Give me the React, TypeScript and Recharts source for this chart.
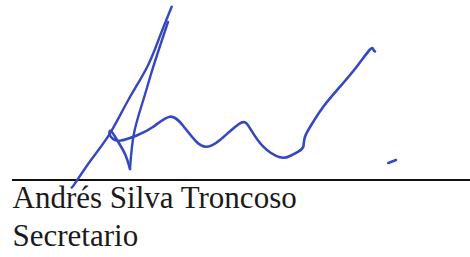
import React from "react";
import { ComposedChart, Line, XAxis, YAxis } from "recharts";

// Signature strokes (page pixel coordinates)
const longStroke = [
  { x: 171.7, y: 6.7 },
  { x: 160, y: 36 },
  { x: 147.3, y: 66.7 },
  { x: 128.3, y: 100 },
  { x: 110, y: 133.3 },
  { x: 91, y: 160 },
  { x: 75, y: 183.3 },
  { x: 71.7, y: 187.5 },
];

const rightLeg = [
  { x: 168, y: 22 },
  { x: 153.3, y: 66.7 },
  { x: 143.3, y: 100 },
  { x: 134, y: 133.3 },
  { x: 130, y: 169 },
];

const waveStroke = [
  { x: 130, y: 169 },
  { x: 125, y: 154 },
  { x: 117, y: 140 },
  { x: 111, y: 131 },
  { x: 109.5, y: 134 },
  { x: 113, y: 139 },
  { x: 121, y: 140.5 },
  { x: 136.7, y: 135.5 },
  { x: 153.3, y: 126.7 },
  { x: 170, y: 116.7 },
  { x: 183.3, y: 126 },
  { x: 196.7, y: 142 },
  { x: 206.7, y: 146.7 },
  { x: 220, y: 140 },
  { x: 240, y: 123.3 },
  { x: 250, y: 128.3 },
  { x: 263.3, y: 146.7 },
  { x: 280, y: 157.3 },
  { x: 290, y: 156 },
  { x: 298.3, y: 151.7 },
  { x: 303.3, y: 146.7 },
  { x: 305, y: 136.7 },
  { x: 313.3, y: 121.7 },
  { x: 323.3, y: 106.7 },
  { x: 340, y: 86.7 },
  { x: 356.7, y: 66.7 },
  { x: 370, y: 49.5 },
  { x: 373.3, y: 49.5 },
  { x: 375, y: 51.5 },
];

const tickStroke = [
  { x: 388.3, y: 163 },
  { x: 396, y: 160 },
];

const ruleLine = [
  { x: 12, y: 180 },
  { x: 470, y: 180 },
];

const nameLine = "Andrés Silva Troncoso";
const titleLine = "Secretario";

const INK = "#3647c2";

export default function App() {
  const common = {
    dataKey: "y",
    dot: false,
    activeDot: false,
    isAnimationActive: false,
    strokeLinecap: "round" as const,
    strokeLinejoin: "round" as const,
  };
  return (
    <div
      style={{
        position: "absolute",
        left: 0,
        top: 0,
        width: 470,
        height: 257,
        background: "#fff",
        overflow: "hidden",
      }}
    >
      <ComposedChart
        width={470}
        height={257}
        margin={{ top: 0, right: 0, bottom: 0, left: 0 }}
      >
        <XAxis type="number" dataKey="x" domain={[0, 470]} hide allowDataOverflow />
        <YAxis type="number" dataKey="y" domain={[0, 257]} reversed hide allowDataOverflow />
        <Line {...common} data={ruleLine} type="linear" stroke="#111" strokeWidth={2} strokeLinecap="butt" />
        <Line {...common} data={longStroke} type="natural" stroke={INK} strokeWidth={2.4} />
        <Line {...common} data={rightLeg} type="natural" stroke={INK} strokeWidth={2.4} />
        <Line {...common} data={waveStroke} type="natural" stroke={INK} strokeWidth={2.6} />
        <Line {...common} data={tickStroke} type="linear" stroke={INK} strokeWidth={2.6} />
      </ComposedChart>
      <svg
        width={470}
        height={257}
        style={{ position: "absolute", left: 0, top: 0, pointerEvents: "none" }}
      >
        <text x={12.5} y={208} fontFamily="'Liberation Serif', 'Times New Roman', serif" fontSize={31} fill="#1a1a1a">
          {nameLine}
        </text>
        <text x={12.5} y={246} fontFamily="'Liberation Serif', 'Times New Roman', serif" fontSize={31} fill="#1a1a1a">
          {titleLine}
        </text>
      </svg>
    </div>
  );
}
